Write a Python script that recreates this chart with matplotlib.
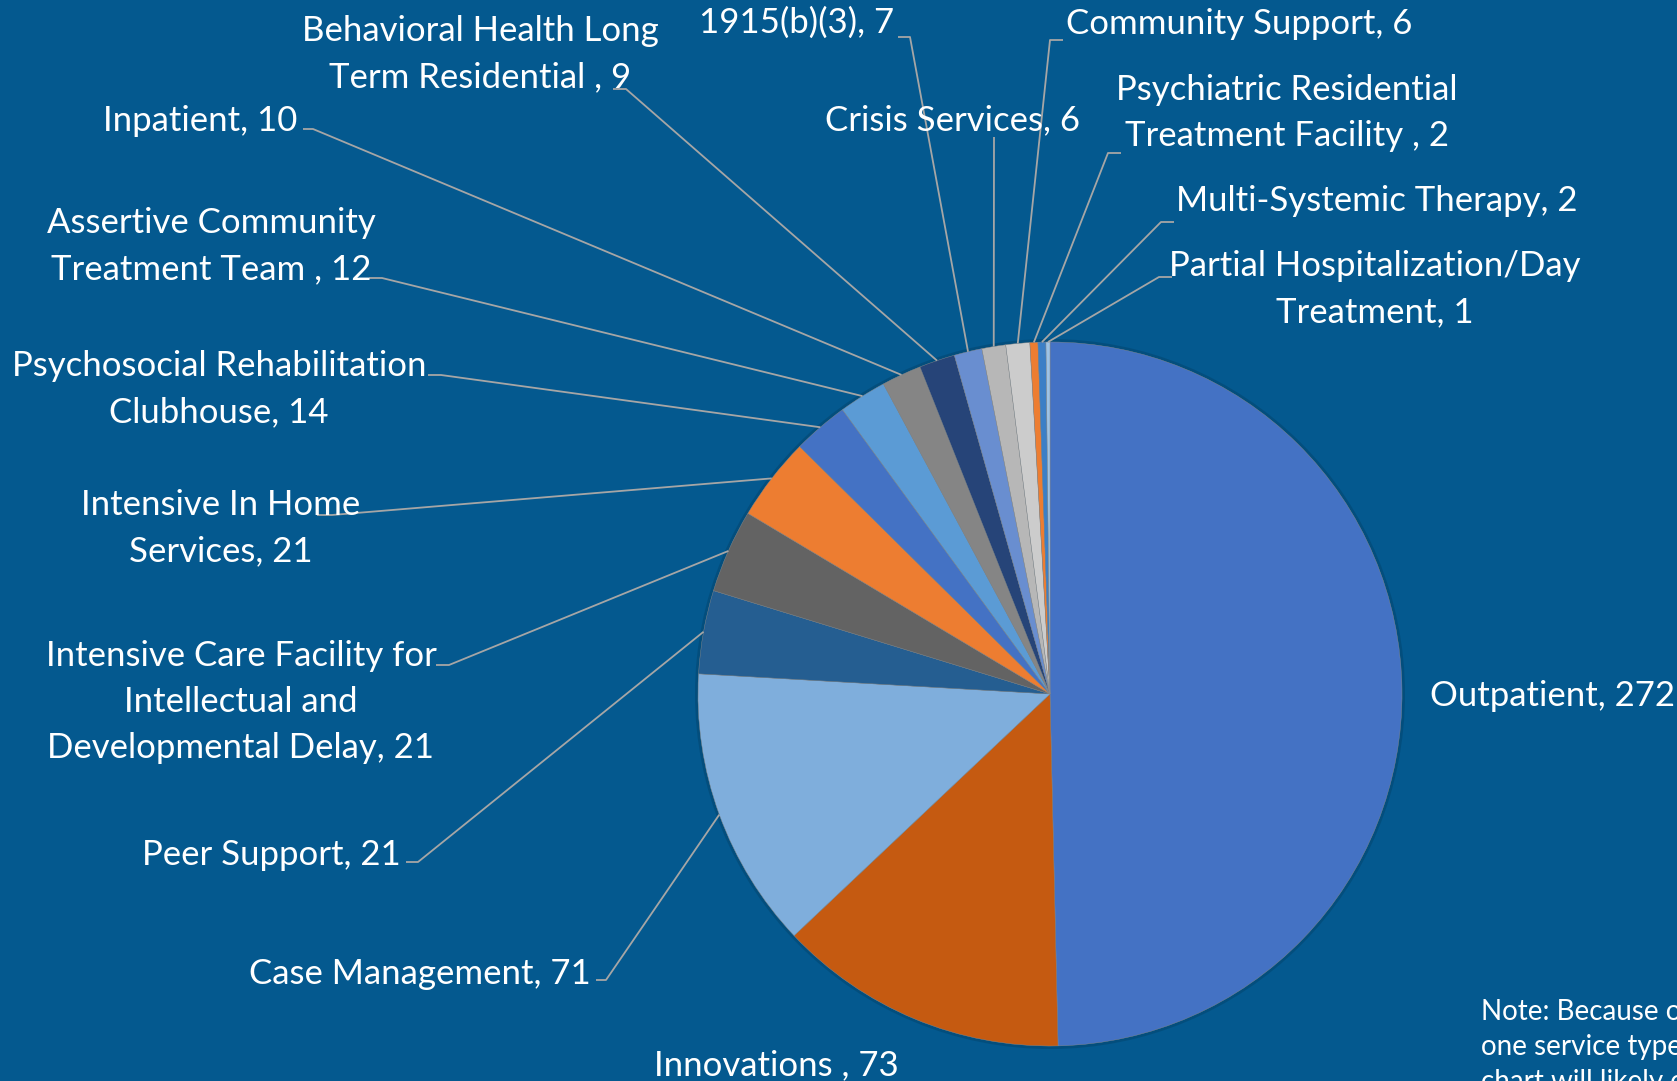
import matplotlib.pyplot as plt
import numpy as np
from matplotlib.patches import Circle

# service types, counts (clockwise from 12 o'clock)
labels = ["Outpatient, 272", "Innovations , 73", "Case Management, 71", "Peer Support, 21",
          "Intensive Care Facility for\nIntellectual and\nDevelopmental Delay, 21",
          "Intensive In Home\nServices, 21", "Psychosocial Rehabilitation\nClubhouse, 14",
          "Assertive Community\nTreatment Team , 12", "Inpatient, 10",
          "Behavioral Health Long\nTerm Residential , 9", "1915(b)(3), 7", "Crisis Services, 6",
          "Community Support, 6", "Psychiatric Residential\nTreatment Facility , 2",
          "Multi-Systemic Therapy, 2", "Partial Hospitalization/Day\nTreatment, 1"]
counts = [272, 73, 71, 21, 21, 21, 14, 12, 10, 9, 7, 6, 6, 2, 2, 1]
colors = ['#4472C4', '#C55A11', '#7FAEDC', '#255E91', '#636363', '#ED7D31', '#4472C4',
          '#5B9BD5', '#858585', '#264478', '#698ED0', '#B7B7B7', '#CCCCCC', '#ED7D31',
          '#3C7FC6', '#9DC3E6']

W, H = 1677, 1081
cx, cy, R = 1050, 694, 352          # pie centre / radius in pixels (top origin)
bg = '#04598F'
line_col = '#A6A6A6'

# label layout: text x, y (pixels from top), alignment, leader tick (x_outer, x_inner, y) or None
layout = [
    (1430, 696, 'left', None),
    (776, 1065, 'center', None),
    (591, 974, 'right', (596, 606, 980)),
    (401, 855, 'right', (406, 418, 862)),
    (241, 702, 'center', (436, 449, 665)),
    (221, 528, 'center', (317, 332, 515)),
    (219, 389, 'center', (428, 441, 375)),
    (211, 246, 'center', (369, 382, 278)),
    (297, 121, 'right', (303, 313, 129)),
    (480, 54, 'center', (613, 626, 89)),
    (797, 23, 'center', (898, 910, 37)),
    (953, 120, 'center', (994, 994, 137)),
    (1066, 24, 'left', (1063, 1050, 40)),
    (1287, 113, 'center', (1121, 1108, 153)),
    (1176, 201, 'left', (1174, 1161, 222)),
    (1375, 289, 'center', (1172, 1159, 277)),
]

plt.rcParams['font.family'] = ['Lato', 'DejaVu Sans']

fig = plt.figure(figsize=(W / 100, H / 100), dpi=100, facecolor=bg)
ax = fig.add_axes([0, 0, 1, 1])
ax.set_facecolor(bg)

# soft shadow under the pie
ax.add_patch(Circle((cx, H - cy), R + 3, color='black', alpha=0.12, lw=0))

ax.pie(counts, colors=colors, startangle=90, counterclock=False,
       center=(cx, H - cy), radius=R,
       wedgeprops=dict(linewidth=0.3, edgecolor='#8a8a8a'))
ax.set_xlim(0, W)
ax.set_ylim(0, H)
ax.axis('off')

# mid angle of each slice, clockwise from top
cum = np.cumsum(counts)
mid = (cum - np.array(counts) / 2) / cum[-1] * 2 * np.pi

for i, (lab, (tx, ty, ha, tick)) in enumerate(zip(labels, layout)):
    ax.text(tx, H - ty, lab, color='white', fontsize=25, ha=ha, va='center',
            multialignment='center', linespacing=1.52)
    if tick is not None:
        ex = cx + R * np.sin(mid[i])
        ey = cy - R * np.cos(mid[i])
        ax.plot([tick[0], tick[1], ex], [H - tick[2], H - tick[2], H - ey],
                color=line_col, lw=1.3, solid_capstyle='butt')

ax.text(1481, H - 1047, "Note: Because of consumers receiving more than\none service type, the total in this\nchart will likely exceed the total served",
        color='white', fontsize=20, ha='left', va='center', linespacing=1.45)

fig.savefig('out.png', dpi=100, facecolor=bg)
